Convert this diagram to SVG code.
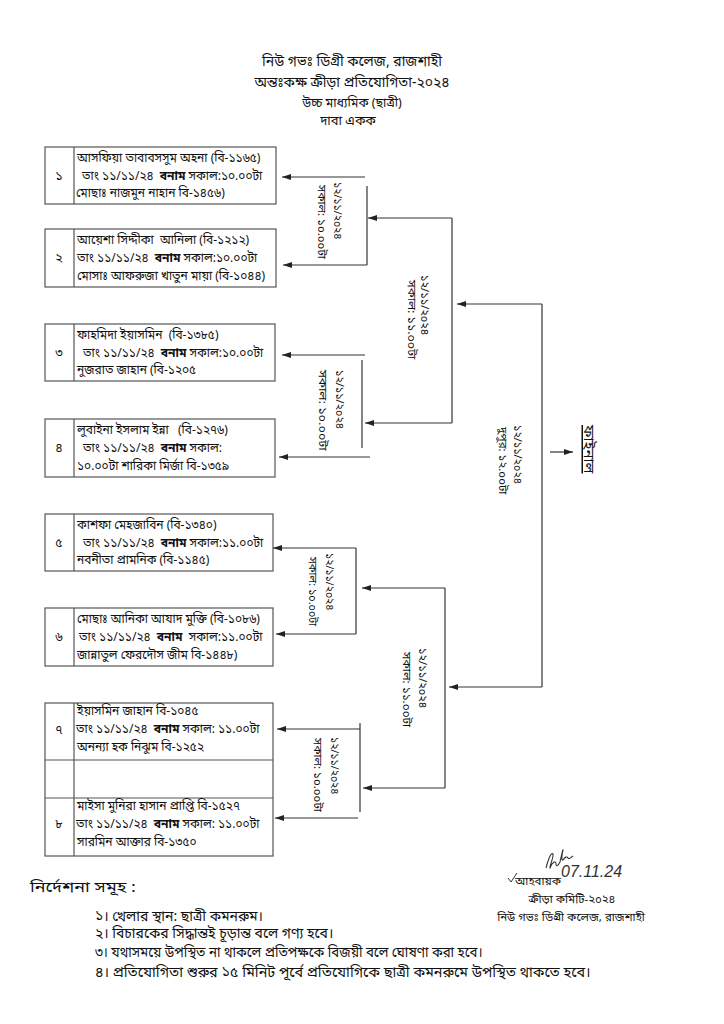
<svg xmlns="http://www.w3.org/2000/svg" width="724" height="1024" viewBox="0 0 724 1024">
<defs>
<style>
text{font-family:"Noto Sans Bengali","Noto Serif Bengali","Lohit Bengali","FreeSerif","Noto Sans",sans-serif;fill:#111;white-space:pre}
.t{font-size:14px;text-anchor:middle}
.s{font-size:12.5px;text-anchor:middle}
.b{font-size:12px}
.n{font-size:12.5px;text-anchor:middle}
.r{font-size:10.5px}
.f{font-size:14px}
.fr{font-size:11.5px;text-anchor:middle}
.box{fill:none;stroke:#555;stroke-width:1.2}
.ln{fill:none;stroke:#333;stroke-width:1.2}
.ar{fill:none;stroke:#333;stroke-width:1.2;marker-end:url(#ah)}
.bold{font-weight:bold}
</style>
<marker id="ah" viewBox="0 0 9 6" refX="9" refY="3" markerWidth="9" markerHeight="6" markerUnits="userSpaceOnUse" orient="auto">
<path d="M0,0 L9,3 L0,6 z" fill="#222"/>
</marker>
</defs>
<rect width="724" height="1024" fill="#fff"/>

<g id="header">
<text class="t" x="352" y="66">নিউ গভঃ ডিগ্রী কলেজ, রাজশাহী</text>
<text class="t" x="352" y="87">অন্তঃকক্ষ ক্রীড়া প্রতিযোগিতা-২০২৪</text>
<text class="s" x="352" y="107">উচ্চ মাধ্যমিক (ছাত্রী)</text>
<text class="s" x="348" y="125" style="font-size:13px">দাবা একক</text>
</g>

<g id="box1">
<rect class="box" x="45" y="147" width="231" height="57"/>
<line class="box" x1="74" y1="147" x2="74" y2="204"/>
<text class="n" x="59" y="180">১</text>
<text class="b" x="77" y="162">আসফিয়া তাবাবসসুম অহনা (বি-১১৬৫)</text>
<text class="b" x="82" y="180">তাং ১১/১১/২৪  <tspan class="bold">বনাম</tspan> সকাল:১০.০০টা</text>
<text class="b" x="76" y="197">মোছাঃ নাজমুন নাহান বি-১৪৫৬)</text>
</g>

<g id="box2">
<rect class="box" x="45" y="229" width="231" height="58"/>
<line class="box" x1="74" y1="229" x2="74" y2="287"/>
<text class="n" x="59" y="262">২</text>
<text class="b" x="77" y="244">আয়েশা সিদ্দীকা  আনিলা (বি-১২১২)</text>
<text class="b" x="77" y="262">তাং ১১/১১/২৪  <tspan class="bold">বনাম</tspan> সকাল:১০.০০টা</text>
<text class="b" x="77" y="280">মোসাঃ আফরুজা খাতুন মায়া (বি-১০৪৪)</text>
</g>

<g id="box3">
<rect class="box" x="45" y="324" width="230" height="57"/>
<line class="box" x1="74" y1="324" x2="74" y2="381"/>
<text class="n" x="59" y="357">৩</text>
<text class="b" x="77" y="339">ফাহমিদা ইয়াসমিন  (বি-১৩৮৫)</text>
<text class="b" x="83" y="357">তাং ১১/১১/২৪  <tspan class="bold">বনাম</tspan> সকাল:১০.০০টা</text>
<text class="b" x="77" y="374">নুজরাত জাহান (বি-১২০৫</text>
</g>

<g id="box4">
<rect class="box" x="45" y="419" width="230" height="58"/>
<line class="box" x1="74" y1="419" x2="74" y2="477"/>
<text class="n" x="59" y="452">৪</text>
<text class="b" x="77" y="434">লুবাইনা ইসলাম ইন্না   (বি-১২৭৬)</text>
<text class="b" x="83" y="452">তাং ১১/১১/২৪  <tspan class="bold">বনাম</tspan> সকাল:</text>
<text class="b" x="77" y="470">১০.০০টা শারিকা মির্জা বি-১৩৫৯</text>
</g>

<g id="box5">
<rect class="box" x="45" y="514" width="228" height="57"/>
<line class="box" x1="74" y1="514" x2="74" y2="571"/>
<text class="n" x="59" y="547">৫</text>
<text class="b" x="77" y="529">কাশফা মেহজাবিন (বি-১৩৪০)</text>
<text class="b" x="83" y="547">তাং ১১/১১/২৪  <tspan class="bold">বনাম</tspan> সকাল:১১.০০টা</text>
<text class="b" x="77" y="564">নবনীতা প্রামনিক (বি-১১৪৫)</text>
</g>

<g id="box6">
<rect class="box" x="45" y="608" width="228" height="58"/>
<line class="box" x1="74" y1="608" x2="74" y2="666"/>
<text class="n" x="59" y="641">৬</text>
<text class="b" x="77" y="623">মোছাঃ আনিকা আযাদ মুক্তি (বি-১০৮৬)</text>
<text class="b" x="79" y="641">তাং ১১/১১/২৪  <tspan class="bold">বনাম</tspan>  সকাল:১১.০০টা</text>
<text class="b" x="77" y="659">জান্নাতুল ফেরদৌস জীম বি-১৪৪৮)</text>
</g>

<g id="box78">
<rect class="box" x="45" y="703" width="228" height="153"/>
<line class="box" x1="74" y1="703" x2="74" y2="856"/>
<line class="box" x1="45" y1="760" x2="273" y2="760"/>
<line class="box" x1="45" y1="798" x2="273" y2="798"/>
<text class="n" x="59" y="734">৭</text>
<text class="b" x="77" y="715">ইয়াসমিন জাহান বি-১০৪৫</text>
<text class="b" x="76" y="733">তাং ১১/১১/২৪  <tspan class="bold">বনাম</tspan> সকাল: ১১.০০টা</text>
<text class="b" x="77" y="751">অনন্যা হক নিঝুম বি-১২৫২</text>
<text class="n" x="59" y="828">৮</text>
<text class="b" x="77" y="810">মাইসা মুনিরা হাসান প্রাপ্তি বি-১৫২৭</text>
<text class="b" x="76" y="828">তাং ১১/১১/২৪  <tspan class="bold">বনাম</tspan> সকাল: ১১.০০টা</text>
<text class="b" x="77" y="846">সারমিন আক্তার বি-১৩৫০</text>
</g>

<g id="connectors">
<path class="ar" d="M365,177 H282"/>
<path class="ln" d="M367,186 V265"/>
<path class="ar" d="M367,265 H283"/>
<path class="ar" d="M452,218 H368"/>
<path class="ar" d="M365,355 H282"/>
<path class="ln" d="M362,360 V448"/>
<path class="ar" d="M370,457 H279"/>
<path class="ln" d="M452,218 V423"/>
<path class="ar" d="M452,423 H365"/>
<path class="ar" d="M542,304 H457"/>
<path class="ln" d="M542,304 V687"/>
<path class="ar" d="M550,452 H573"/>
<path class="ar" d="M356,548 H273"/>
<path class="ln" d="M356,548 V634"/>
<path class="ar" d="M356,634 H276"/>
<path class="ar" d="M445,588 H362"/>
<path class="ln" d="M445,588 V788"/>
<path class="ar" d="M445,788 H363"/>
<path class="ar" d="M542,687 H449"/>
<path class="ar" d="M360,729 H277"/>
<path class="ln" d="M360,723 V812"/>
<path class="ar" d="M358,818 H275"/>
</g>

<g id="dates">
<text class="r" transform="translate(334,182) rotate(90)">১২/১১/২০২৪</text>
<text class="r" transform="translate(318,185) rotate(90) scale(1.1,1)">সকাল: ১০.০০টা</text>
<text class="r" transform="translate(421,275) rotate(90) scale(1.05,1)">১২/১১/২০২৪</text>
<text class="r" transform="translate(408,280) rotate(90) scale(1.18,1)">সকাল: ১১.০০টা</text>
<text class="r" transform="translate(336,370) rotate(90) scale(1.03,1)">১২/১১/২০২৪</text>
<text class="r" transform="translate(319,370) rotate(90) scale(1.2,1)">সকাল: ১০.০০টা</text>
<text class="r" transform="translate(514,425) rotate(90) scale(1.03,1)">১২/১১/২০২৪</text>
<text class="r" transform="translate(499,427) rotate(90) scale(1.1,1)">দুপুর: ১২.০০টা</text>
<text class="r" transform="translate(326,553) rotate(90)">১২/১১/২০২৪</text>
<text class="r" transform="translate(309,557) rotate(90) scale(1.03,1)">সকাল: ১০.০০টা</text>
<text class="r" transform="translate(419,648) rotate(90) scale(1.05,1)">১২/১১/২০২৪</text>
<text class="r" transform="translate(403,652) rotate(90) scale(1.12,1)">সকাল: ১১.০০টা</text>
<text class="r" transform="translate(331,737) rotate(90)">১২/১১/২০২৪</text>
<text class="r" transform="translate(314,738) rotate(90) scale(1.1,1)">সকাল: ১০.০০টা</text>
</g>

<g id="final">
<text transform="translate(584,425) rotate(90)" style="font-size:15px;text-decoration:underline">ফাইনাল</text>
</g>

<g id="footer">
<text class="f" transform="translate(30,892) scale(1.2,1)" style="font-size:15px">নির্দেশনা সমূহ :</text>
<text class="f" x="95" y="921">১। খেলার স্থান: ছাত্রী কমনরুম।</text>
<text class="f" x="95" y="938">২। বিচারকের সিদ্ধান্তই চূড়ান্ত বলে গণ্য হবে।</text>
<text class="f" transform="translate(95,957) scale(0.95,1)">৩। যথাসময়ে উপস্থিত না থাকলে প্রতিপক্ষকে বিজয়ী বলে ঘোষণা করা হবে।</text>
<text class="f" transform="translate(95,977) scale(1.03,1)">৪। প্রতিযোগিতা শুরুর ১৫ মিনিট পূর্বে প্রতিযোগিকে ছাত্রী কমনরুমে উপস্থিত থাকতে হবে।</text>
</g>

<g id="signature">
<path d="M508,878 l3,4 l6,-9" fill="none" stroke="#333" stroke-width="1"/>
<path d="M546,868 c2,-8 5,-16 7,-14 c1,3 -4,13 -3,14 c2,-6 6,-8 6,-4 c0,3 2,2 4,-2 c1,-4 3,-14 3,-12 c-1,4 -2,11 0,10 c2,-3 4,-4 5,-2 c1,2 3,-1 5,-2" fill="none" stroke="#333" stroke-width="1.1"/>
<text class="fr" x="538" y="885">আহবায়ক</text>
<text x="561" y="877" style="font-family:'Liberation Sans',sans-serif;font-style:italic;font-size:16px;fill:#333">07.11.24</text>
<text class="fr" x="572" y="903">ক্রীড়া কমিটি-২০২৪</text>
<text class="fr" x="571" y="921">নিউ গভঃ ডিগ্রী কলেজ, রাজশাহী</text>
</g>
</svg>
